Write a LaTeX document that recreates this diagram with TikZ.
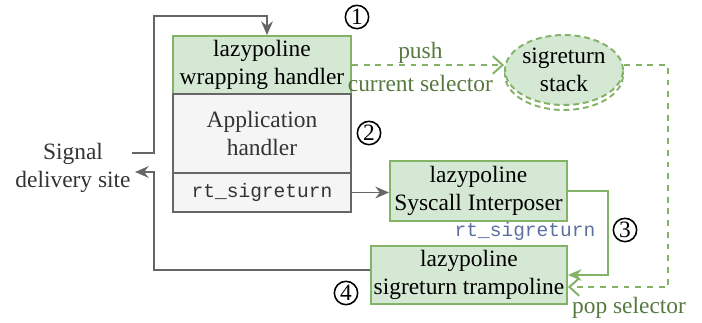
\documentclass[tikz,border=0pt]{standalone}
\usepackage{fontspec}
\setmainfont{Liberation Serif}
\setmonofont{Liberation Mono}
\usetikzlibrary{shapes.geometric,arrows.meta,calc}
\definecolor{boxgreen}{HTML}{D5E8D4}
\definecolor{linegreen}{HTML}{82B366}
\definecolor{boxgray}{HTML}{F5F5F5}
\definecolor{linegray}{HTML}{666666}
\definecolor{textgreen}{HTML}{56793F}
\definecolor{textblue}{HTML}{5B6FA0}
\begin{document}
\begin{tikzpicture}[x=0.018cm,y=-0.018cm,font=\fontsize{12}{14.4}\selectfont,
  greenbox/.style={draw=linegreen,fill=boxgreen,line width=1pt,align=center,inner sep=0pt},
  graybox/.style={draw=linegray,fill=boxgray,line width=1pt,align=center,inner sep=0pt,text=black!80},
  stepnum/.style={circle,draw,line width=0.8pt,inner sep=0pt,minimum size=0.42cm},
  garrow/.style={draw=linegray,line width=1pt,-{Stealth[length=7pt,width=6pt]}},
  grarrow/.style={draw=linegreen,line width=1pt,-{Stealth[length=7pt,width=6pt]}},
  darrow/.style={draw=linegreen,line width=1pt,dash pattern=on 3pt off 3pt,
    -{Straight Barb[length=5pt,width=9pt,line width=1pt]}}]
\useasboundingbox (0,0) rectangle (702,323);

\node[greenbox,minimum width=3.204cm,minimum height=1.044cm](wrap) at (262,65) {lazypoline\\wrapping handler};
\node[graybox,minimum width=3.204cm,minimum height=1.422cm](app) at (262,133.5) {Application\\handler};
\node[graybox,minimum width=3.204cm,minimum height=0.702cm](rts) at (262,192.5) {\fontsize{10}{12}\selectfont\ttfamily rt\_sigreturn};
\node[greenbox,minimum width=3.186cm,minimum height=1.08cm](interp) at (478.5,191) {lazypoline\\Syscall Interposer};
\node[greenbox,minimum width=3.528cm,minimum height=1.044cm](tramp) at (469,275) {lazypoline\\sigreturn trampoline};

\node[ellipse,draw=linegreen,line width=1pt,dash pattern=on 3pt off 2pt,minimum width=2.124cm,minimum height=1.26cm](shadow) at (564,75) {};
\node[ellipse,draw=linegreen,fill=boxgreen,line width=1pt,dash pattern=on 3pt off 2pt,minimum width=2.124cm,minimum height=1.26cm,align=center,inner sep=0pt](stack) at (564,70) {sigreturn\\stack};

\node[align=center,text=black!80](signal) at (73,168) {Signal\\delivery site};

\node[stepnum](n1) at (357,17) {1};
\node[stepnum](n2) at (369,133) {2};
\node[stepnum](n3) at (625,230) {3};
\node[stepnum](n4) at (346,293) {4};

\node[text=textblue,font=\fontsize{10}{12}\selectfont\ttfamily](lbl) at (525,231) {rt\_sigreturn};
\node[text=textgreen](pop) at (629,308) {pop selector};

\coordinate(sigtop) at (132,153);
\coordinate(sigbot) at (135,172);

\draw[garrow] (sigtop) -| (154,16) -| ($(wrap.north)+(5,0)$);
\draw[garrow] ($(tramp.west)+(0,-5)$) -| (154,172) -- (sigbot);
\draw[garrow] (rts.east) -- (rts.east -| interp.west);
\draw[grarrow] (interp.east) -- ++(40,0) |- (tramp.east);
\draw[darrow] (wrap.east) -- (wrap.east -| stack.west)
  node[pos=0.45,yshift=6pt,text=textgreen]{push}
  node[pos=0.45,yshift=-9.5pt,text=textgreen]{current selector};
\draw[darrow] (wrap.east -| stack.east) -- ++(44,0) |- ($(tramp.east)+(0,12)$);

\end{tikzpicture}
\end{document}
